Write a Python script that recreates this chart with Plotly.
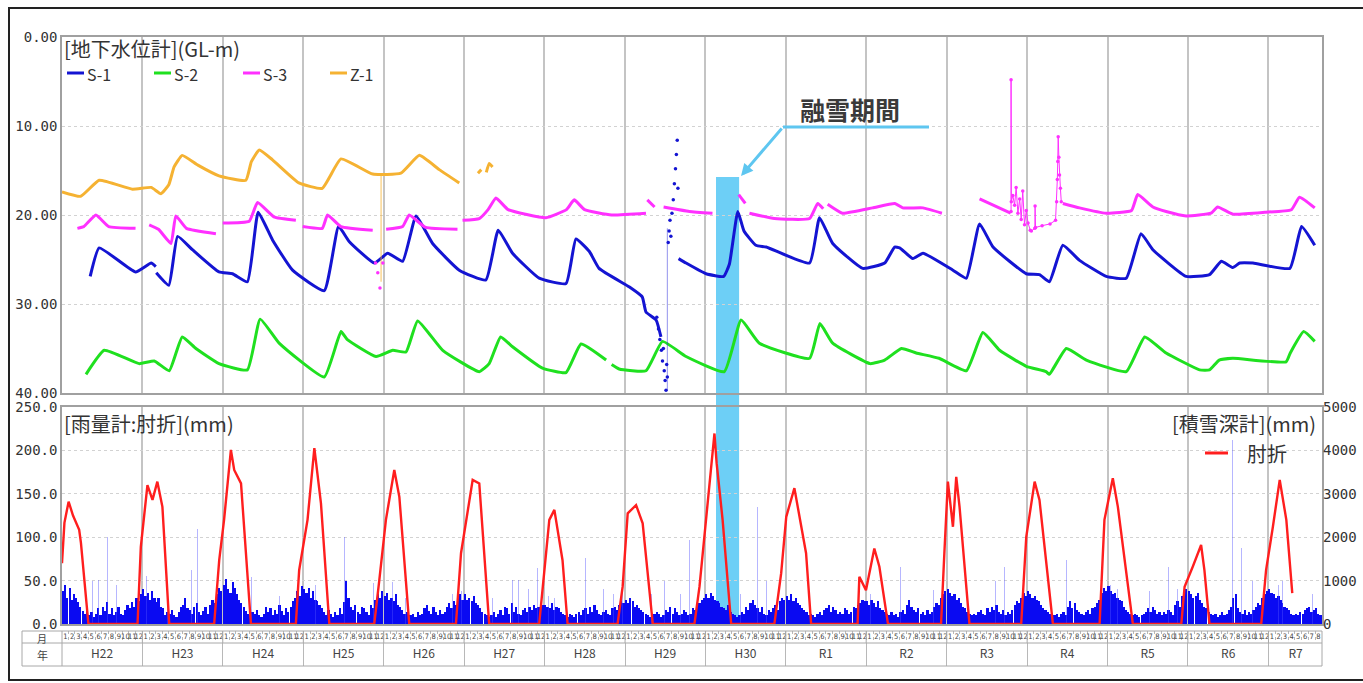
import plotly.graph_objects as go

W, H = 1363, 683
def px(x): return x / W
def py(y): return 1 - y / H

# ---------------- data ----------------
S1 = [("2010-05-09", 26.9), ("2010-06-19", 23.7), ("2010-12-01", 26.4), ("2011-02-10", 25.4),
      ("2011-03-03", 25.8), ("2011-03-04", None), ("2011-03-05", 26.5), ("2011-05-01", 27.9),
      ("2011-06-10", 22.4), ("2011-08-16", 23.9), ("2011-12-15", 26.4), ("2012-02-14", 26.6),
      ("2012-04-22", 27.5), ("2012-06-10", 19.7), ("2012-08-14", 22.8), ("2012-11-13", 26.2),
      ("2013-04-06", 28.5), ("2013-06-10", 21.3), ("2013-07-29", 23.0), ("2013-11-20", 25.4),
      ("2014-01-19", 24.3), ("2014-03-28", 25.2), ("2014-05-28", 20.1), ("2014-08-11", 23.2),
      ("2014-12-10", 26.2), ("2015-04-10", 27.3), ("2015-06-05", 21.7), ("2015-08-09", 24.3),
      ("2015-12-08", 27.1), ("2016-04-08", 27.7), ("2016-05-23", 22.7), ("2016-07-23", 24.1),
      ("2016-09-05", 26.0), ("2017-01-21", 28.1), ("2017-03-20", 29.2), ("2017-04-06", 30.9),
      ("2017-05-22", 31.8), ("2017-06-13", 33.7), ("2017-07-01", None), ("2017-09-01", 24.9),
      ("2017-10-05", 25.4), ("2018-01-04", 26.6), ("2018-03-25", 26.9), ("2018-04-20", 25.5),
      ("2018-05-28", 19.6), ("2018-06-25", 21.8), ("2018-08-18", 23.4), ("2018-10-04", 23.6),
      ("2019-04-19", 25.4), ("2019-06-03", 20.3), ("2019-08-02", 23.2), ("2019-12-16", 26.0),
      ("2020-03-25", 25.4), ("2020-05-09", 23.6), ("2020-06-01", 23.7), ("2020-07-31", 24.9),
      ("2020-09-15", 24.3), ("2021-01-29", 26.2), ("2021-03-31", 27.1), ("2021-05-30", 21.0),
      ("2021-07-30", 23.6), ("2021-12-28", 26.6), ("2022-02-26", 26.7), ("2022-04-12", 27.5),
      ("2022-06-12", 23.4), ("2022-08-27", 25.1), ("2022-12-26", 26.9), ("2023-03-27", 27.1),
      ("2023-06-02", 22.1), ("2023-07-26", 23.9), ("2023-12-24", 26.9), ("2024-04-08", 26.7),
      ("2024-06-01", 25.2), ("2024-07-23", 25.9), ("2024-08-23", 25.4), ("2024-10-23", 25.4),
      ("2025-04-08", 26.0), ("2025-05-31", 21.3), ("2025-07-30", 23.4)]

S1_SCATTER = [("2017-05-25", 31.5), ("2017-06-02", 32.8), ("2017-06-08", 34.0), ("2017-06-15", 35.2),
              ("2017-06-20", 36.4), ("2017-06-24", 35.0), ("2017-06-28", 37.5), ("2017-07-02", 38.6),
              ("2017-07-06", 39.7), ("2017-07-09", 36.8), ("2017-07-12", 38.2),
              ("2017-07-16", 23.1), ("2017-07-20", 21.8), ("2017-07-24", 20.6), ("2017-07-28", 22.4),
              ("2017-08-02", 19.8), ("2017-08-08", 18.3), ("2017-08-13", 16.5), ("2017-08-18", 14.8),
              ("2017-08-22", 13.2), ("2017-08-26", 11.6), ("2017-08-29", 17.0)]
S1_THIN = [("2017-07-12", 39.7), ("2017-07-12", 21.5)]

S2 = [("2010-04-20", 37.9), ("2010-07-12", 35.2), ("2010-12-17", 36.7), ("2011-02-24", 36.4),
      ("2011-05-03", 37.5), ("2011-07-01", 33.7), ("2011-09-01", 35.0), ("2011-12-15", 36.7),
      ("2012-04-22", 37.4), ("2012-06-19", 31.7), ("2012-09-13", 34.4), ("2013-04-06", 38.2),
      ("2013-06-21", 33.1), ("2013-07-20", 34.0), ("2013-11-27", 35.9), ("2014-02-11", 35.2),
      ("2014-04-12", 35.4), ("2014-06-04", 31.9), ("2014-09-26", 35.2), ("2015-03-11", 37.6),
      ("2015-04-25", 36.7), ("2015-06-16", 33.7), ("2015-08-09", 34.8), ("2015-12-23", 37.2),
      ("2016-04-08", 37.7), ("2016-06-15", 34.5), ("2016-10-07", 36.3), ("2016-10-20", None),
      ("2016-11-01", 36.8), ("2016-12-05", 37.3), ("2017-04-06", 37.5), ("2017-06-20", 34.2),
      ("2017-10-05", 35.9), ("2018-03-28", 37.6), ("2018-06-12", 31.8), ("2018-09-03", 34.4),
      ("2019-04-19", 36.1), ("2019-06-05", 32.2), ("2019-08-02", 34.4), ("2020-01-19", 36.7),
      ("2020-03-25", 36.3), ("2020-06-09", 35.0), ("2020-08-15", 35.5), ("2020-11-27", 36.1),
      ("2021-03-31", 37.5), ("2021-06-14", 33.2), ("2021-08-29", 35.2), ("2021-12-28", 37.0),
      ("2022-03-28", 37.6), ("2022-04-12", 37.9), ("2022-06-28", 35.0), ("2022-09-27", 36.3),
      ("2023-03-27", 37.6), ("2023-06-19", 33.7), ("2023-09-24", 35.5), ("2024-02-23", 37.4),
      ("2024-04-08", 37.4), ("2024-05-22", 36.3), ("2024-07-23", 36.1), ("2025-03-22", 36.5),
      ("2025-04-10", 35.5), ("2025-06-10", 33.1), ("2025-07-30", 34.2)]

S3 = [("2010-03-12", 21.5), ("2010-04-10", 21.3), ("2010-06-04", 20.0), ("2010-08-01", 21.3),
      ("2010-12-01", 21.5), ("2010-12-20", None), ("2011-02-01", 21.1), ("2011-03-15", 21.6),
      ("2011-05-11", 23.2), ("2011-06-02", 20.1), ("2011-07-20", 21.5), ("2011-12-01", 22.1),
      ("2011-12-15", None), ("2012-01-01", 20.9), ("2012-04-30", 20.7), ("2012-06-07", 18.6),
      ("2012-08-20", 20.2), ("2012-11-28", 20.6), ("2012-12-10", None), ("2012-12-29", 21.3),
      ("2013-03-28", 21.5), ("2013-04-21", 20.0), ("2013-06-20", 21.3), ("2013-11-12", 21.7),
      ("2013-12-10", None), ("2014-01-12", 21.6), ("2014-03-28", 21.3), ("2014-04-27", 20.0),
      ("2014-07-10", 21.4), ("2014-12-02", 21.6), ("2014-12-12", None), ("2014-12-25", 20.6),
      ("2015-03-11", 20.4), ("2015-04-20", 19.4), ("2015-05-26", 18.1), ("2015-07-20", 19.4),
      ("2016-01-08", 20.3), ("2016-04-10", 19.4), ("2016-05-15", 18.3), ("2016-07-01", 19.4),
      ("2016-11-01", 20.0), ("2017-04-06", 19.8), ("2017-04-09", None), ("2017-04-12", 18.3),
      ("2017-05-15", 19.1), ("2017-06-01", None), ("2017-06-25", 19.1), ("2017-10-20", 19.6),
      ("2018-02-02", 19.8), ("2018-03-01", None), ("2018-06-01", 17.7), ("2018-07-01", 18.7),
      ("2018-07-10", None), ("2018-07-20", 19.8), ("2018-11-10", 20.4), ("2019-04-19", 20.4),
      ("2019-05-26", 18.7), ("2019-06-20", 19.3), ("2019-06-30", None), ("2019-07-10", 18.8),
      ("2019-09-15", 19.8), ("2020-01-30", 19.2), ("2020-05-10", 18.7), ("2020-06-15", 19.2),
      ("2020-09-15", 19.2), ("2020-12-10", 19.8), ("2021-01-10", None), ("2021-05-30", 18.2),
      ("2021-10-18", 19.8), ("2021-10-19", None), ("2022-06-12", 18.7), ("2022-08-27", 19.2),
      ("2022-12-26", 19.8), ("2023-04-20", 19.5), ("2023-05-18", 17.7), ("2023-07-26", 19.1),
      ("2023-09-24", 19.6), ("2023-12-24", 20.1), ("2024-04-15", 19.8), ("2024-05-15", 19.1),
      ("2024-07-23", 19.9), ("2024-12-15", 19.7), ("2025-04-15", 19.4), ("2025-05-22", 18.0),
      ("2025-07-30", 19.2)]

S3_ANOMALY = [("2021-10-20", 19.6), ("2021-10-20", 4.8), ("2021-10-21", 18.5), ("2021-10-28", 17.8),
              ("2021-11-05", 18.9), ("2021-11-12", 16.9), ("2021-11-20", 19.8), ("2021-11-28", 18.2),
              ("2021-12-05", 20.5), ("2021-12-12", 17.3), ("2021-12-20", 21.1), ("2021-12-28", 19.5),
              ("2022-01-05", 20.9), ("2022-01-15", 21.7), ("2022-01-20", 21.8), ("2022-02-05", 21.5),
              ("2022-02-06", 19.0), ("2022-02-08", 21.4), ("2022-03-10", 21.2), ("2022-04-15", 21.0),
              ("2022-05-10", 20.6), ("2022-05-15", 18.5), ("2022-05-18", 16.0), ("2022-05-20", 14.0),
              ("2022-05-22", 11.2), ("2022-05-25", 13.5), ("2022-05-28", 15.5), ("2022-06-01", 17.0),
              ("2022-06-05", 18.5)]
S3_OUTLIER = [("2013-11-25", 25.4), ("2013-12-05", 26.5), ("2013-12-15", 28.2), ("2013-12-28", 25.4)]

Z1 = [("2010-01-01", 17.4), ("2010-03-27", 17.9), ("2010-06-19", 16.1), ("2010-11-17", 17.1),
      ("2011-02-10", 16.9), ("2011-03-26", 17.6), ("2011-05-01", 16.6), ("2011-05-25", 14.6),
      ("2011-07-01", 13.3), ("2011-09-10", 14.4), ("2011-12-15", 15.6), ("2012-04-15", 16.1),
      ("2012-05-10", 14.0), ("2012-06-15", 12.7), ("2012-08-14", 13.8), ("2012-12-12", 16.4),
      ("2013-03-28", 17.0), ("2013-06-21", 13.7), ("2013-11-12", 15.4), ("2014-03-20", 15.3),
      ("2014-06-12", 13.3), ("2014-09-10", 14.9), ("2014-12-10", 16.4), ("2014-12-20", None),
      ("2015-03-05", 15.3), ("2015-03-20", 14.9), ("2015-03-28", None), ("2015-04-12", 15.2),
      ("2015-04-25", 14.2), ("2015-05-10", 14.6)]
Z1_OUTLIER = [("2013-12-20", 15.5), ("2013-12-20", 27.5)]

SNOW = [("2010-01-01", 1400), ("2010-01-12", 2330), ("2010-01-31", 2820), ("2010-02-20", 2500),
        ("2010-03-20", 2170), ("2010-03-28", 1870), ("2010-05-01", 0),
        ("2010-12-10", 0), ("2010-12-25", 1780), ("2011-01-24", 3200), ("2011-02-16", 2860),
        ("2011-03-10", 3280), ("2011-04-02", 2700), ("2011-05-03", 0),
        ("2011-11-23", 0), ("2011-12-16", 1470), ("2012-01-07", 2400), ("2012-02-07", 4010),
        ("2012-02-22", 3550), ("2012-03-24", 3240), ("2012-05-08", 0),
        ("2012-11-28", 0), ("2012-12-13", 1240), ("2013-01-20", 2400), ("2013-02-20", 4050),
        ("2013-03-22", 2780), ("2013-04-29", 0),
        ("2013-11-19", 0), ("2013-12-12", 1010), ("2014-01-11", 2400), ("2014-02-18", 3550),
        ("2014-03-13", 2930), ("2014-04-27", 0),
        ("2014-11-25", 0), ("2014-12-18", 1630), ("2015-01-25", 2780), ("2015-02-09", 3320),
        ("2015-03-11", 3240), ("2015-03-19", 2630), ("2015-04-25", 0),
        ("2015-12-08", 0), ("2015-12-31", 1240), ("2016-01-23", 2400), ("2016-02-15", 2630),
        ("2016-03-01", 2170), ("2016-03-23", 1470), ("2016-04-15", 0),
        ("2016-11-28", 0), ("2016-12-21", 860), ("2017-01-13", 2550), ("2017-02-20", 2740),
        ("2017-03-22", 2320), ("2017-05-07", 0),
        ("2017-11-12", 0), ("2017-12-05", 860), ("2018-01-04", 2400), ("2018-02-11", 4390),
        ("2018-02-21", 3700), ("2018-03-20", 2400), ("2018-04-28", 0),
        ("2018-11-10", 0), ("2018-12-11", 1170), ("2019-01-03", 2470), ("2019-02-09", 3130),
        ("2019-03-04", 2470), ("2019-04-03", 1630), ("2019-04-26", 0),
        ("2019-11-23", 0), ("2019-12-01", 1090), ("2019-12-31", 780), ("2020-02-07", 1740),
        ("2020-03-01", 1320), ("2020-04-09", 0),
        ("2020-12-06", 0), ("2020-12-21", 1630), ("2021-01-06", 3280), ("2021-01-29", 2240),
        ("2021-02-13", 3390), ("2021-02-28", 2700), ("2021-04-14", 0),
        ("2021-12-05", 0), ("2021-12-28", 2010), ("2022-02-04", 3280), ("2022-02-26", 2860),
        ("2022-04-28", 0),
        ("2022-11-26", 0), ("2022-12-18", 2400), ("2023-01-25", 3360), ("2023-02-17", 2700),
        ("2023-04-26", 0),
        ("2023-12-02", 0), ("2023-12-17", 860), ("2024-01-23", 1320), ("2024-03-01", 1820),
        ("2024-03-16", 1240), ("2024-04-08", 0),
        ("2024-11-29", 0), ("2024-12-21", 1240), ("2025-01-21", 2240), ("2025-02-21", 3320),
        ("2025-03-23", 2400), ("2025-04-19", 710)]

RAIN_YEARS = list(range(2010, 2026))
# 10-day (dekad) rainfall bulk, mm: Jan1..Dec3 per year
RAIN_DEKAD = [
    [38, 45, 30, 42, 28, 35, 30, 25, 20, 15, 12, 18, 10, 14, 8, 12, 18, 10, 20, 15, 25, 12, 18, 10, 14, 20, 12, 10, 16, 22, 18, 25, 20, 30, 26, 35],
    [40, 32, 36, 28, 38, 30, 25, 30, 20, 18, 10, 14, 12, 16, 10, 8, 14, 20, 22, 30, 18, 16, 12, 20, 24, 14, 10, 15, 20, 12, 22, 28, 24, 35, 42, 38],
    [45, 52, 40, 36, 48, 42, 35, 28, 24, 20, 15, 12, 10, 14, 12, 16, 10, 8, 12, 20, 14, 18, 10, 16, 12, 22, 15, 10, 18, 14, 20, 26, 30, 38, 32, 44],
    [40, 36, 42, 30, 38, 28, 26, 22, 18, 14, 10, 16, 12, 8, 14, 10, 18, 12, 25, 50, 30, 20, 16, 22, 14, 12, 20, 18, 14, 10, 22, 18, 28, 34, 30, 38],
    [32, 36, 28, 30, 26, 34, 22, 20, 16, 12, 14, 10, 10, 12, 8, 14, 10, 12, 18, 22, 15, 12, 20, 14, 10, 16, 12, 14, 20, 24, 18, 26, 22, 30, 35, 28],
    [34, 28, 30, 26, 32, 24, 22, 18, 14, 12, 10, 8, 10, 14, 8, 12, 16, 10, 20, 18, 12, 24, 14, 20, 12, 10, 16, 18, 14, 20, 16, 22, 18, 20, 24, 22],
    [22, 20, 18, 24, 16, 20, 18, 14, 12, 10, 8, 12, 10, 8, 12, 14, 10, 16, 18, 12, 20, 14, 22, 16, 12, 10, 14, 16, 12, 10, 18, 20, 16, 22, 26, 24],
    [28, 24, 30, 26, 20, 22, 18, 16, 14, 12, 10, 8, 10, 12, 14, 12, 8, 10, 16, 14, 20, 12, 18, 14, 10, 12, 16, 14, 10, 12, 18, 16, 20, 24, 28, 30],
    [34, 30, 36, 32, 28, 26, 24, 20, 18, 16, 22, 14, 12, 10, 8, 10, 14, 12, 20, 16, 24, 28, 22, 18, 14, 20, 12, 10, 16, 14, 18, 22, 16, 26, 30, 28],
    [32, 28, 34, 26, 30, 24, 22, 18, 16, 14, 10, 12, 10, 8, 12, 14, 10, 16, 18, 22, 14, 20, 16, 12, 14, 12, 18, 16, 12, 14, 20, 18, 22, 24, 28, 26],
    [26, 22, 28, 24, 20, 26, 18, 16, 14, 12, 10, 14, 10, 12, 8, 14, 16, 12, 22, 28, 20, 16, 14, 18, 12, 14, 10, 16, 12, 14, 20, 24, 22, 30, 34, 38],
    [40, 36, 32, 34, 28, 30, 24, 20, 18, 14, 12, 10, 12, 10, 14, 16, 12, 10, 18, 14, 20, 16, 22, 14, 12, 16, 10, 14, 12, 16, 22, 26, 24, 30, 36, 32],
    [38, 34, 30, 32, 28, 26, 22, 18, 16, 14, 12, 10, 10, 12, 8, 12, 14, 10, 20, 26, 18, 24, 16, 14, 12, 10, 14, 16, 12, 18, 20, 24, 28, 36, 42, 38],
    [44, 38, 34, 36, 30, 28, 26, 20, 16, 14, 12, 10, 12, 10, 8, 10, 12, 14, 18, 14, 20, 16, 12, 14, 10, 14, 12, 16, 14, 10, 22, 26, 20, 32, 36, 40],
    [38, 34, 30, 32, 36, 28, 24, 20, 18, 14, 12, 10, 12, 8, 10, 14, 10, 12, 16, 20, 30, 34, 18, 14, 12, 16, 10, 14, 12, 16, 20, 24, 22, 30, 34, 38],
    [40, 36, 34, 30, 32, 28, 24, 20, 18, 16, 12, 10, 12, 10, 14, 12, 16, 18, 20, 14, 16, 18, 12, 10],
]

RAIN_SPIKES = [
    ("2010-01-15", 52), ("2010-02-01", 81), ("2010-02-20", 45), ("2010-03-10", 60), ("2010-04-15", 30),
    ("2010-05-20", 49), ("2010-06-15", 51), ("2010-07-10", 35), ("2010-07-26", 100), ("2010-08-20", 38),
    ("2010-09-05", 45), ("2010-10-05", 30), ("2010-10-27", 81), ("2010-11-20", 40), ("2010-12-17", 70),
    ("2011-01-20", 55), ("2011-02-15", 48), ("2011-04-25", 40), ("2011-05-20", 32), ("2011-06-15", 101),
    ("2011-07-05", 40), ("2011-07-26", 66), ("2011-08-12", 62), ("2011-09-09", 110), ("2011-09-25", 35),
    ("2011-10-20", 45), ("2011-11-27", 56), ("2011-12-20", 50),
    ("2012-01-25", 43), ("2012-02-20", 55), ("2012-03-20", 43), ("2012-05-10", 54), ("2012-06-10", 30),
    ("2012-07-01", 40), ("2012-08-20", 38), ("2012-09-15", 32), ("2012-10-29", 51), ("2012-12-20", 45),
    ("2013-01-21", 54), ("2013-02-25", 45), ("2013-04-15", 35), ("2013-05-20", 28), ("2013-07-07", 100),
    ("2013-08-05", 54), ("2013-09-10", 45), ("2013-10-09", 95), ("2013-10-25", 38), ("2013-11-15", 47),
    ("2014-01-10", 40), ("2014-02-10", 48), ("2014-04-10", 30), ("2014-06-20", 35), ("2014-07-25", 45),
    ("2014-09-01", 40), ("2014-10-15", 68), ("2014-11-10", 35), ("2014-12-20", 38),
    ("2015-01-20", 42), ("2015-02-10", 35), ("2015-05-10", 30), ("2015-07-01", 42), ("2015-08-09", 51),
    ("2015-09-05", 51), ("2015-10-20", 40), ("2015-11-30", 64), ("2015-12-20", 35),
    ("2016-01-20", 32), ("2016-02-15", 30), ("2016-05-01", 35), ("2016-06-10", 28), ("2016-07-05", 76),
    ("2016-08-18", 143), ("2016-08-22", 104), ("2016-09-25", 40), ("2016-11-10", 35), ("2016-12-20", 38),
    ("2017-01-20", 39), ("2017-02-20", 36), ("2017-03-15", 30), ("2017-05-01", 35), ("2017-06-29", 49),
    ("2017-08-10", 40), ("2017-09-10", 35), ("2017-10-20", 97), ("2017-11-05", 51), ("2017-12-15", 35),
    ("2018-05-14", 78), ("2018-06-10", 35), ("2018-07-01", 45), ("2018-08-25", 135), ("2018-09-02", 104),
    ("2018-09-15", 78), ("2018-10-05", 50), ("2018-11-08", 51), ("2018-12-20", 40),
    ("2019-01-20", 38), ("2019-02-15", 35), ("2019-04-20", 30), ("2019-06-15", 40), ("2019-07-20", 35),
    ("2019-08-20", 45), ("2019-09-10", 51), ("2019-10-05", 58), ("2019-10-20", 155), ("2019-12-05", 45),
    ("2020-01-20", 35), ("2020-02-20", 40), ("2020-04-26", 62), ("2020-06-05", 66), ("2020-07-10", 45),
    ("2020-07-27", 183), ("2020-08-20", 55), ("2020-09-20", 62), ("2020-11-01", 39), ("2020-12-20", 45),
    ("2021-01-20", 42), ("2021-03-10", 40), ("2021-05-15", 41), ("2021-06-20", 45), ("2021-08-10", 50),
    ("2021-09-20", 66), ("2021-10-20", 56), ("2021-11-20", 38), ("2021-12-10", 45),
    ("2022-01-15", 40), ("2022-02-10", 40), ("2022-04-20", 45), ("2022-05-25", 62), ("2022-06-28", 74),
    ("2022-08-05", 66), ("2022-09-20", 50), ("2022-11-10", 48), ("2022-12-20", 45),
    ("2023-01-15", 45), ("2023-02-15", 40), ("2023-03-20", 35), ("2023-06-10", 58), ("2023-07-10", 38),
    ("2023-08-01", 51), ("2023-09-10", 45), ("2023-10-05", 66), ("2023-11-15", 40), ("2023-12-20", 42),
    ("2024-01-20", 42), ("2024-02-20", 48), ("2024-04-15", 45), ("2024-05-20", 62), ("2024-07-21", 212),
    ("2024-08-15", 81), ("2024-09-01", 87), ("2024-10-20", 50), ("2024-11-20", 35), ("2024-12-20", 45),
    ("2025-01-25", 40), ("2025-02-15", 45), ("2025-03-05", 50), ("2025-05-20", 54), ("2025-06-15", 30),
    ("2025-07-20", 35),
]

YEAR_LABELS = ["H22", "H23", "H24", "H25", "H26", "H27", "H28", "H29", "H30",
               "R1", "R2", "R3", "R4", "R5", "R6", "R7"]
MONTH_LABELS = [str(m) for m in range(1, 13)]
LAST_MONTH = 8            # data through August of R7
BAND = ["2018-02-18", "2018-06-03"]   # 融雪期間
X_RANGE = ["2010-01-01", "2025-09-01"]

SERIES = [("S-1", S1, "#1414d2"), ("S-2", S2, "#1fe01f"), ("S-3", S3, "#ff30ff"), ("Z-1", Z1, "#f5b232")]


def unzip(pairs):
    return [p[0] for p in pairs], [p[1] for p in pairs]


# ---------------- figure ----------------
fig = go.Figure()
MONO = "DejaVu Sans Mono"
JP = "Noto Sans CJK JP"
TXT = "#333333"

# rainfall bulk
rx, ry = [], []
for yr, vals in zip(RAIN_YEARS, RAIN_DEKAD):
    for i, v in enumerate(vals):
        rx.append(f"{yr}-{i // 3 + 1:02d}-{[5, 15, 25][i % 3]:02d}")
        ry.append(v)
fig.add_trace(go.Bar(x=rx, y=ry, xaxis="x2", yaxis="y2", marker_color="#0a0af2",
                     marker_line_width=0, width=10 * 86400000, hoverinfo="skip"))
sx, sy = unzip(RAIN_SPIKES)
fig.add_trace(go.Bar(x=sx, y=sy, xaxis="x2", yaxis="y2", marker_color="rgba(80,80,255,0.42)",
                     marker_line_width=0, width=1.6 * 86400000, hoverinfo="skip"))
# snow depth
nx, ny = unzip(SNOW)
fig.add_trace(go.Scatter(x=nx, y=ny, xaxis="x2", yaxis="y3", mode="lines",
                         line=dict(color="#ff1e1e", width=2.4), name="肘折"))

# groundwater
for name, data, col in SERIES:
    dx, dy = unzip(data)
    fig.add_trace(go.Scatter(x=dx, y=dy, mode="lines", line=dict(color=col, width=3, shape="spline", smoothing=0.4),
                             name=name, connectgaps=False))
for data, col in [(S1_THIN, "rgba(40,40,220,0.5)"), (Z1_OUTLIER, "rgba(245,178,50,0.8)")]:
    dx, dy = unzip(data)
    fig.add_trace(go.Scatter(x=dx, y=dy, mode="lines", line=dict(color=col, width=1)))
dx, dy = unzip(S1_SCATTER)
fig.add_trace(go.Scatter(x=dx, y=dy, mode="markers", marker=dict(color="#1414d2", size=3.5)))
dx, dy = unzip(S3_ANOMALY)
fig.add_trace(go.Scatter(x=dx, y=dy, mode="lines+markers", line=dict(color="#ff30ff", width=1),
                         marker=dict(color="#ff30ff", size=3.5)))
dx, dy = unzip(S3_OUTLIER)
fig.add_trace(go.Scatter(x=dx, y=dy, mode="markers", marker=dict(color="#ff30ff", size=3.5)))

# table rows: months and years
mx, mt = [], []
for yr in RAIN_YEARS:
    for m, lab in enumerate(MONTH_LABELS, start=1):
        if yr == RAIN_YEARS[-1] and m > LAST_MONTH:
            break
        mx.append(f"{yr}-{m:02d}-16")
        mt.append(lab)
fig.add_trace(go.Scatter(x=mx, y=[0.5] * len(mx), xaxis="x3", yaxis="y4", mode="text", text=mt,
                         textfont=dict(family="Liberation Sans Narrow, DejaVu Sans Condensed", size=7.5, color="#444"),
                         cliponaxis=False, hoverinfo="skip"))
yx = [f"{yr}-07-02" for yr in RAIN_YEARS[:-1]] + [f"{RAIN_YEARS[-1]}-05-04"]
fig.add_trace(go.Scatter(x=yx, y=[0.5] * len(yx), xaxis="x4", yaxis="y5", mode="text", text=YEAR_LABELS,
                         textfont=dict(family=JP, size=12, color="#444"), cliponaxis=False, hoverinfo="skip"))

XD = [px(62), px(1322)]
grid_x = dict(domain=XD, type="date", range=X_RANGE, showgrid=True, tick0="2010-01-01", dtick="M12",
              gridcolor="#c4c4c4", gridwidth=1.5, showticklabels=False, ticks="", zeroline=False,
              showline=True, mirror=True, linecolor="#a0a0a0", linewidth=1.5, automargin=False)

fig.update_layout(
    width=W, height=H, autosize=False, margin=dict(l=0, r=0, t=0, b=0, pad=0, autoexpand=False),
    paper_bgcolor="white", plot_bgcolor="rgba(0,0,0,0)", showlegend=False, barmode="overlay",
    bargap=0,
    xaxis=dict(grid_x, anchor="y"),
    yaxis=dict(domain=[py(393), py(37)], range=[40, 0], tickvals=[0, 10, 20, 30, 40],
               ticktext=["0.00", "10.00", "20.00", "30.00", "40.00"], showgrid=True,
               gridcolor="#d2d2d2", griddash="dot", gridwidth=1, zeroline=False, ticks="",
               tickfont=dict(family=MONO, size=14, color=TXT), showline=True, mirror=True,
               linecolor="#a0a0a0", linewidth=1.5, anchor="x", automargin=False),
    xaxis2=dict(grid_x, anchor="y2"),
    yaxis2=dict(domain=[py(624), py(407)], range=[0, 250], tickvals=[0, 50, 100, 150, 200, 250],
                ticktext=["0.0", "50.0", "100.0", "150.0", "200.0", "250.0"], showgrid=True,
                gridcolor="#d2d2d2", griddash="dot", gridwidth=1, zeroline=False, ticks="",
                tickfont=dict(family=MONO, size=14, color=TXT), showline=True, mirror=True,
                linecolor="#a0a0a0", linewidth=1.5, anchor="x2", automargin=False),
    yaxis3=dict(overlaying="y2", side="right", range=[0, 5000], tickvals=[0, 1000, 2000, 3000, 4000, 5000],
                showgrid=False, zeroline=False, ticks="", tickfont=dict(family=MONO, size=14, color=TXT),
                anchor="x2", automargin=False),
    xaxis3=dict(domain=XD, type="date", range=X_RANGE, anchor="y4", showgrid=True, tick0="2010-01-01",
                dtick="M1", gridcolor="#b8b8b8", griddash="dot", gridwidth=1, showticklabels=False,
                ticks="", zeroline=False, showline=False, automargin=False),
    yaxis4=dict(domain=[py(643), py(631)], range=[0, 1], showgrid=False, showticklabels=False,
                zeroline=False, anchor="x3", automargin=False),
    xaxis4=dict(domain=XD, type="date", range=X_RANGE, anchor="y5", showgrid=True, tick0="2010-01-01",
                dtick="M12", gridcolor="#b8b8b8", gridwidth=1, showticklabels=False, ticks="",
                zeroline=False, showline=False, automargin=False),
    yaxis5=dict(domain=[py(666), py(643)], range=[0, 1], showgrid=False, showticklabels=False,
                zeroline=False, anchor="x4", automargin=False),
)

shapes = []
# 融雪期間 band
shapes.append(dict(type="rect", xref="x", yref="paper", x0=BAND[0], x1=BAND[1], y0=py(624), y1=py(177),
                   fillcolor="#6dcff6", line_width=0, layer="below"))
# callout line
shapes.append(dict(type="line", xref="paper", yref="paper", x0=px(783), x1=px(929), y0=py(127), y1=py(127),
                   line=dict(color="#5ec6f0", width=3)))
# outer frame
shapes.append(dict(type="rect", xref="paper", yref="paper", x0=px(9), x1=px(1368), y0=py(680), y1=py(8),
                   line=dict(color="#222222", width=2), fillcolor="rgba(0,0,0,0)"))
# table frame
shapes.append(dict(type="rect", xref="paper", yref="paper", x0=px(22), x1=px(1322), y0=py(666), y1=py(631),
                   line=dict(color="#a8a8a8", width=1), fillcolor="rgba(0,0,0,0)"))
shapes.append(dict(type="line", xref="paper", yref="paper", x0=px(22), x1=px(1322), y0=py(643), y1=py(643),
                   line=dict(color="#a8a8a8", width=1)))
shapes.append(dict(type="line", xref="paper", yref="paper", x0=px(62), x1=px(62), y0=py(666), y1=py(631),
                   line=dict(color="#a8a8a8", width=1)))
for yr in RAIN_YEARS[1:]:
    shapes.append(dict(type="line", xref="x3", yref="paper", x0=f"{yr}-01-01", x1=f"{yr}-01-01",
                       y0=py(643), y1=py(631), line=dict(color="#a8a8a8", width=1)))
# manual legend (top plot)
legend_pos = [(67, 84), (154, 171), (243, 260), (330, 347)]
annotations = []
for (x0, x1), (name, _, col) in zip(legend_pos, SERIES):
    shapes.append(dict(type="line", xref="paper", yref="paper", x0=px(x0), x1=px(x1), y0=py(73), y1=py(73),
                       line=dict(color=col, width=3)))
    annotations.append(dict(x=px(x1 + 1), y=py(74), text=name,
                            xanchor="left", yanchor="middle", font=dict(family=JP, size=16, color=TXT)))
# snow legend
shapes.append(dict(type="line", xref="paper", yref="paper", x0=px(1205), x1=px(1228), y0=py(453), y1=py(453),
                   line=dict(color="#ff1e1e", width=3)))
fig.update_layout(shapes=shapes)

annotations += [
    dict(x=px(62), y=py(48), text="[地下水位計](GL-m)", font=dict(family=JP, size=20, color=TXT),
         xanchor="left", yanchor="middle"),
    dict(x=px(62), y=py(423), text="[雨量計:肘折](mm)", font=dict(family=JP, size=20, color=TXT),
         xanchor="left", yanchor="middle"),
    dict(x=px(1318), y=py(423), text="[積雪深計](mm)", font=dict(family=JP, size=20, color=TXT),
         xanchor="right", yanchor="middle"),
    dict(x=px(1245), y=py(453), text="肘折", font=dict(family=JP, size=20, color=TXT),
         xanchor="left", yanchor="middle"),
    dict(x=px(850), y=py(109), text="融雪期間", font=dict(family=JP, size=25, color="#3a3a3a", weight="bold"),
         xanchor="center", yanchor="middle"),
    dict(x=px(42), y=py(638), text="月", font=dict(family=JP, size=10, color="#444"),
         xanchor="center", yanchor="middle"),
    dict(x=px(42), y=py(655), text="年", font=dict(family=JP, size=11, color="#444"),
         xanchor="center", yanchor="middle"),
]
for a in annotations:
    a["showarrow"] = False
    a["xref"] = "paper"
    a["yref"] = "paper"
# arrow of the callout
annotations.append(dict(x=px(741), y=py(176), xref="paper", yref="paper", ax=42, ay=-49, text="",
                        showarrow=True, arrowhead=2, arrowsize=0.8, arrowwidth=3, arrowcolor="#5ec6f0"))
fig.update_layout(annotations=annotations)

fig.write_html("out.html",
               config={"displayModeBar": False, "responsive": False},
               default_width=W, default_height=H,
               post_script="document.body.style.margin='0';document.body.style.padding='0';"
                           "document.documentElement.style.overflow='hidden';")
